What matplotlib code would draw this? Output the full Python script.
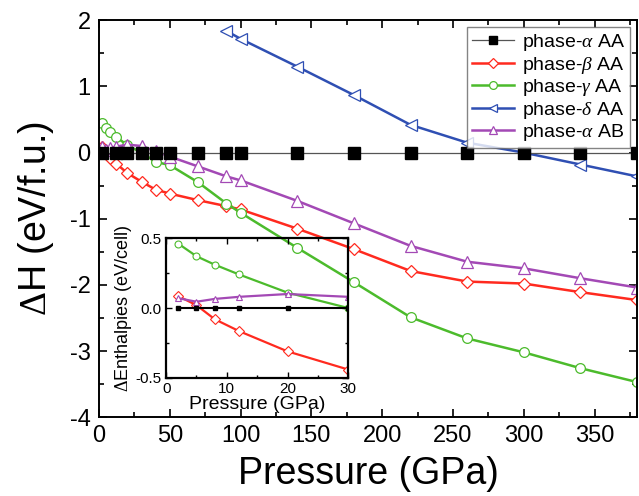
import numpy as np
import matplotlib.pyplot as plt
from matplotlib.ticker import MultipleLocator

plt.rcParams['font.family'] = ['Liberation Sans', 'DejaVu Sans']
plt.rcParams['mathtext.fontset'] = 'custom'
plt.rcParams['mathtext.rm'] = 'Liberation Serif'
plt.rcParams['mathtext.it'] = 'Liberation Serif:italic'
plt.rcParams['axes.unicode_minus'] = False

# enthalpy differences vs pressure (eV/f.u.)
p_alpha = [2, 12, 20, 30, 40, 50, 70, 90, 100, 140, 180, 220, 260, 300, 340, 380]
h_alpha = [0] * len(p_alpha)

p_main = [2, 5, 8, 12, 20, 30, 40, 50, 70, 90, 100, 140, 180, 220, 260, 300, 340, 380]
h_beta = [0.09, 0.02, -0.08, -0.165, -0.31, -0.44, -0.56, -0.62, -0.72, -0.81, -0.86,
          -1.15, -1.46, -1.79, -1.95, -1.98, -2.11, -2.23]
h_gamma = [0.45, 0.37, 0.31, 0.24, 0.11, 0.0, -0.14, -0.19, -0.45, -0.77, -0.91,
           -1.44, -1.96, -2.49, -2.81, -3.02, -3.26, -3.47]
h_ab = [0.09, 0.045, 0.07, 0.09, 0.12, 0.10, 0.02, -0.06, -0.21, -0.36, -0.42,
        -0.73, -1.07, -1.41, -1.65, -1.75, -1.90, -2.04]

p_delta = [90, 100, 140, 180, 220, 260, 300, 340, 380]
h_delta = [1.84, 1.72, 1.30, 0.87, 0.42, 0.15, 0.0, -0.18, -0.36]

# low-pressure range (eV/cell)
p_low = [2, 5, 8, 12, 20, 30]
e_alpha = [0, 0, 0, 0, 0, 0]
e_beta = [0.085, 0.02, -0.08, -0.165, -0.31, -0.44]
e_gamma = [0.46, 0.37, 0.31, 0.24, 0.11, 0.0]
e_ab = [0.07, 0.045, 0.065, 0.08, 0.10, 0.08]

red = '#ff2a1f'
green = '#4cbb2c'
blue = '#2f4fb3'
purple = '#a349b5'

fig = plt.figure(figsize=(6.39, 4.96), dpi=100)
ax = fig.add_axes([0.155, 0.159, 0.842, 0.800])

mk = dict(markerfacecolor='white', markersize=7, markeredgewidth=0.9)
ax.plot(p_alpha, h_alpha, color='#555555', lw=0.9, marker='s', markersize=8,
        markerfacecolor='black', markeredgecolor='black', label=r'phase-$\alpha$ AA', zorder=5)
ax.plot(p_main, h_beta, color=red, lw=1.8, marker='D', markeredgecolor=red,
        label=r'phase-$\beta$ AA', **dict(mk, markersize=6))
ax.plot(p_main, h_gamma, color=green, lw=1.8, marker='o', markeredgecolor=green,
        label=r'phase-$\gamma$ AA', **mk)
ax.plot(p_delta, h_delta, color=blue, lw=1.8, marker='<', markeredgecolor=blue,
        label=r'phase-$\delta$ AA', **dict(mk, markersize=8))
ax.plot(p_main, h_ab, color=purple, lw=1.8, marker='^', markeredgecolor=purple,
        label=r'phase-$\alpha$ AB', **dict(mk, markersize=8))

ax.set_xlim(0, 380)
ax.set_ylim(-4, 2)
ax.xaxis.set_major_locator(MultipleLocator(50))
ax.xaxis.set_minor_locator(MultipleLocator(25))
ax.yaxis.set_major_locator(MultipleLocator(1))
ax.yaxis.set_minor_locator(MultipleLocator(0.5))
ax.tick_params(which='both', direction='in', top=True, right=True, width=1.2)
ax.tick_params(which='major', length=6, labelsize=17, pad=6)
ax.tick_params(which='minor', length=3.5)
for s in ax.spines.values():
    s.set_linewidth(1.4)
ax.set_xlabel('Pressure (GPa)', fontsize=27, labelpad=6)
ax.set_ylabel(r'$\Delta$H (eV/f.u.)', fontsize=27, labelpad=10)

leg = ax.legend(loc='upper right', fontsize=14, frameon=True, fancybox=False,
                edgecolor='#666666', handlelength=2.2, handletextpad=0.4,
                labelspacing=0.08, borderpad=0.25, borderaxespad=0.35,
                markerscale=0.8)
leg.get_frame().set_linewidth(1.0)

# inset: low-pressure region
ins = fig.add_axes([0.260, 0.238, 0.285, 0.282])
ins.patch.set_alpha(0)
imk = dict(markerfacecolor='white', markersize=5, markeredgewidth=0.8)
ins.plot(p_low, e_alpha, color='black', lw=1.5, marker='s', markersize=3,
         markerfacecolor='black', zorder=5)
ins.plot(p_low, e_beta, color=red, lw=1.6, marker='D', markeredgecolor=red, **imk)
ins.plot(p_low, e_gamma, color=green, lw=1.6, marker='o', markeredgecolor=green, **imk)
ins.plot(p_low, e_ab, color=purple, lw=1.6, marker='^', markeredgecolor=purple, **imk)
ins.set_xlim(0, 30)
ins.set_ylim(-0.5, 0.5)
ins.xaxis.set_major_locator(MultipleLocator(10))
ins.xaxis.set_minor_locator(MultipleLocator(5))
ins.yaxis.set_major_locator(MultipleLocator(0.5))
ins.yaxis.set_minor_locator(MultipleLocator(0.25))
ins.yaxis.set_major_formatter(lambda v, pos: f'{v:.1f}')
ins.tick_params(which='both', direction='in', top=True, right=True, width=1.0)
ins.tick_params(which='major', length=4, labelsize=11, pad=3)
ins.tick_params(which='minor', length=2.5)
for s in ins.spines.values():
    s.set_linewidth(1.6)
ins.set_xlabel('Pressure (GPa)', fontsize=14, labelpad=0)
ins.set_ylabel(r'$\Delta$Enthalpies (eV/cell)', fontsize=13, labelpad=1)

fig.savefig('out.png', dpi=100)
